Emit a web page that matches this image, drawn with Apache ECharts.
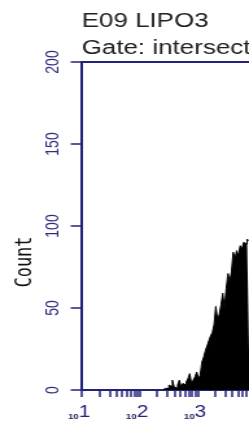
<!DOCTYPE html>
<html>
<head>
<meta charset="utf-8">
<script src="https://cdn.jsdelivr.net/npm/echarts@6/dist/echarts.min.js"></script>
<style>
    html, body {margin: 0; padding: 0; background: #fff; overflow: hidden;}
    /* the source picture is stretched sideways, so the chart is drawn narrow and widened */
    #chart {width: 192px; height: 425px; transform: scaleX(1.296875); transform-origin: 0 0;}
</style>
</head>
<body>
<div id="chart"></div>
<script>
/**
 * 数据
 */
var binLog = [2.40, 2.43, 2.46, 2.49, 2.52, 2.55, 2.58, 2.61, 2.64, 2.67,
    2.70, 2.73, 2.76, 2.79, 2.82, 2.85, 2.88, 2.91, 2.94, 2.97,
    3.00, 3.03, 3.06, 3.09, 3.12, 3.15, 3.18, 3.21, 3.24, 3.27,
    3.30, 3.33, 3.36, 3.39, 3.42, 3.45, 3.48, 3.51, 3.54, 3.57,
    3.60, 3.63, 3.66, 3.69, 3.72, 3.75, 3.78, 3.81, 3.84, 3.87, 3.90];// log10 of channel
var counts = [0, 1, 2, 1, 3, 2, 6, 2, 1, 3,
    6, 2, 4, 3, 5, 7, 10, 4, 6, 8,
    11, 7, 9, 17, 20, 24, 27, 30, 33, 35,
    40, 51, 43, 46, 52, 59, 50, 62, 71, 66,
    72, 84, 80, 85, 82, 88, 86, 90, 89, 92, 91];
var decadeExps = [1, 2, 3];// 10^1, 10^2, 10^3
var minorSteps = [1, 2, 3, 4, 5, 6, 7, 8, 9];

var navy = '#23237a';

(function () {
    var chart = echarts.init(document.getElementById('chart'));

    var histData = [];
    for (var i = 0; i < binLog.length; i++) {
        histData.push([binLog[i], counts[i]]);
    }
    // log minor ticks (2..9 per decade)
    var tickVals = [];
    for (var d = 1; d <= 3; d++) {
        for (var k = 0; k < minorSteps.length; k++) {
            tickVals.push(d + Math.log10(minorSteps[k]));
        }
    }
    tickVals.push(4);

    var option = {
        backgroundColor: '#fff',
        animation: false,
        title: {
            text: 'E09 LIPO3\nGate: intersection',
            left: 63,
            top: 8,
            padding: 0,
            textStyle: {
                fontFamily: 'Liberation Sans',
                fontSize: 20,
                lineHeight: 27,
                fontWeight: 'normal',
                color: '#222'
            }
        },
        graphic: [{
            type: 'text',
            x: 19.5,
            y: 262,
            rotation: Math.PI / 2,
            style: {
                text: 'Count',
                fontFamily: 'DejaVu Sans Mono',
                fontSize: 17,
                fill: '#111',
                align: 'center',
                verticalAlign: 'middle'
            }
        }],
        grid: {
            left: 63,
            top: 62,
            width: 134,
            height: 328,
            outerBoundsMode: 'none',
            containLabel: false,
            show: true,
            borderColor: navy,
            borderWidth: 2
        },
        xAxis: {
            type: 'value',
            min: 1,
            max: 4,
            splitLine: {show: false},
            axisLine: {lineStyle: {color: navy, width: 2}},
            axisTick: {
                show: true,
                length: 7,
                customValues: tickVals,
                lineStyle: {color: navy, width: 1.5}
            },
            axisLabel: {
                margin: 15,
                customValues: decadeExps,
                formatter: function (v) {
                    return '{a|10}{b|' + v + '}';
                },
                rich: {
                    a: {fontFamily: 'Liberation Sans', fontSize: 7.5, fontWeight: 'bold', color: '#1c1c50', verticalAlign: 'bottom', lineHeight: 16},
                    b: {fontFamily: 'Liberation Sans', fontSize: 16, color: navy, verticalAlign: 'bottom', lineHeight: 16, padding: [0, 4, 0, 0]}
                }
            }
        },
        yAxis: {
            type: 'value',
            min: 0,
            max: 200,
            interval: 50,
            splitLine: {show: false},
            axisLine: {show: true, lineStyle: {color: navy, width: 1.5}},
            axisTick: {show: true, length: 8.5, lineStyle: {color: navy, width: 1.5}},
            axisLabel: {
                rotate: 90,
                margin: 15,
                fontFamily: 'Liberation Sans',
                fontSize: 14,
                color: '#2e2e80'
            }
        },
        series: [{
            type: 'line',
            data: histData,
            step: 'middle',
            showSymbol: false,
            lineStyle: {color: '#000', width: 1},
            areaStyle: {color: '#000', opacity: 1}
        }]
    };
    chart.setOption(option);
})();
</script>
</body>
</html>
